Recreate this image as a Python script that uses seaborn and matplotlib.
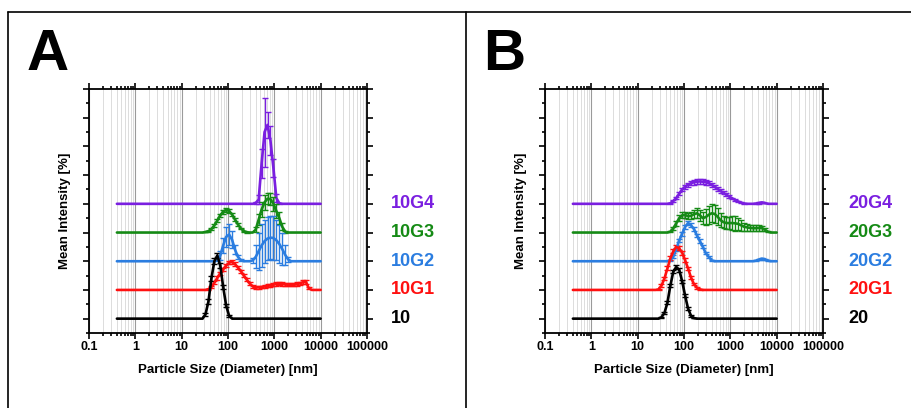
import numpy as np
import matplotlib
matplotlib.use("Agg")
import matplotlib.pyplot as plt
import matplotlib.ticker as mticker
import matplotlib.transforms as mtransforms
from matplotlib.lines import Line2D
import seaborn as sns

# ---- DLS size bins (nm) ----
sizes_nm = [0.4, 0.4632, 0.5365, 0.6213, 0.7195, 0.8332, 0.9649, 1.117, 1.294, 1.499,
            1.736, 2.01, 2.328, 2.696, 3.122, 3.615, 4.187, 4.849, 5.615, 6.503,
            7.531, 8.721, 10.1, 11.7, 13.54, 15.69, 18.17, 21.04, 24.36, 28.21,
            32.67, 37.84, 43.82, 50.75, 58.77, 68.06, 78.82, 91.28, 105.7, 122.4,
            141.8, 164.2, 190.1, 220.2, 255.0, 295.3, 342.0, 396.1, 458.7, 531.2,
            615.1, 712.4, 825.0, 955.4, 1106, 1281, 1484, 1718, 1990, 2305,
            2669, 3091, 3580, 4145, 4801, 5560, 6439, 7456, 8635, 10000]

# ---- Panel A : intensity (%) per bin ----
a_10 = [0]*30 + [1.5, 6, 14, 20, 22, 18.5, 11, 4.5, 1] + [0]*31
a_10_err = [0]*30 + [0.5, 0.8, 1, 1, 1, 1, 0.8, 0.6, 0.3] + [0]*31
a_10g1 = [0]*31 + [0.3, 1.0, 2.5, 4.2, 5.8, 7.2, 8.5, 9.5, 9.8, 9.0, 7.8, 6.5, 5.0, 3.5, 2.2,
                   1.2, 0.9, 0.9, 1.0, 1.2, 1.4, 1.6, 1.9, 2.1, 2.2, 2.1, 1.9, 1.8, 1.8, 1.8,
                   2.0, 2.3, 2.7, 2.8, 0.6] + [0]*4
a_10g1_err = [0]*31 + [0.2, 0.4, 0.5, 0.6, 0.6, 0.6, 0.6, 0.6, 0.6, 0.6, 0.6, 0.6, 0.5, 0.5, 0.4,
                       0.4, 0.4, 0.4, 0.4, 0.5, 0.5, 0.5, 0.6, 0.6, 0.6, 0.6, 0.6, 0.6, 0.6, 0.6,
                       0.6, 0.6, 0.7, 0.7, 0.3] + [0]*4
a_10g2 = [0]*34 + [0.3, 2, 5.5, 8.5, 9.3, 7.5, 4, 1.5, 0.4, 0, 0, 0, 0.3, 1.5, 3.5, 5.5, 7,
                   7.9, 8.2, 8.1, 7.3, 6, 4.2, 2.2, 0.6, 0] + [0]*10
a_10g2_err = [0]*34 + [0.3, 1.5, 2.5, 3.5, 3.5, 3, 1.5, 0.8, 0.3, 0, 0, 0, 1, 4, 6.5, 7.5, 7.5,
                       7.5, 7.5, 7.5, 7, 6.5, 5.5, 3.5, 1, 0] + [0]*10
a_10g3 = [0]*30 + [0.2, 0.5, 1.2, 2.5, 4.2, 6.0, 7.3, 7.9, 7.5, 6.3, 4.5, 2.8, 1.4, 0.5, 0.1,
                   0, 0, 1.0, 4.5, 8.0, 10.5, 11.8, 11.6, 10.0, 7.5, 5.0, 2.0, 0.3] + [0]*12
a_10g3_err = [0]*30 + [0.1, 0.2, 0.3, 0.4, 0.5, 0.6, 0.7, 0.7, 0.7, 0.6, 0.5, 0.4, 0.3, 0.2, 0.1,
                       0, 0, 0.8, 2, 2.5, 2.5, 2, 2, 2.5, 2.5, 2, 1.2, 0.3] + [0]*12
a_10g4 = [0]*47 + [0.3, 1.5, 14, 25, 27.5, 22, 12.5, 2, 0.2] + [0]*14
a_10g4_err = [0]*47 + [0.3, 1.5, 5, 12, 4.5, 5, 3, 1.5, 0.2] + [0]*14

# ---- Panel B ----
b_20 = [0]*30 + [0.5, 2, 5.5, 11.5, 16.4, 18, 17, 13, 8, 3.5, 1, 0.2] + [0]*28
b_20_err = [0]*30 + [0.2, 0.4, 0.5, 0.6, 0.6, 0.6, 0.6, 0.6, 0.5, 0.4, 0.3, 0.1] + [0]*28
b_20g1 = [0]*29 + [0.2, 1.5, 4, 7.5, 11, 13.5, 15, 14.5, 13, 10.3, 7.5, 4.3, 2, 0.8, 0.2] + [0]*26
b_20g1_err = [0]*29 + [0.1, 0.4, 0.6, 0.7, 0.7, 0.7, 0.7, 0.7, 0.7, 0.7, 0.6, 0.5, 0.4, 0.3, 0.1] + [0]*26
b_20g2 = ([0]*33 + [0.3, 1.7, 4.2, 7.2, 9.6, 12, 13.3, 12.5, 11.2, 9, 7, 5, 2.8, 1.5, 0.3]
          + [0]*14 + [0.2, 0.6, 0.9, 0.7, 0.2] + [0]*3)
b_20g2_err = ([0]*33 + [0.1, 0.4, 0.5, 0.6, 0.7, 0.7, 0.7, 0.7, 0.7, 0.6, 0.6, 0.5, 0.4, 0.3, 0.1]
              + [0]*14 + [0.1, 0.2, 0.3, 0.2, 0.1] + [0]*3)
b_20g3 = [0]*33 + [0.3, 1.5, 3.2, 5, 6, 6.1, 5.7, 5.8, 6.4, 6.7, 6.0, 5.0, 5.4, 6.2, 6.7, 6.5,
                   5.5, 4.3, 3.6, 3.3, 3.3, 3.3, 3.2, 3.0, 2.5, 2.0, 1.8, 1.6, 1.5, 1.5, 1.6,
                   1.5, 1.0, 0.3] + [0]*3
b_20g3_err = [0]*33 + [0.2, 0.6, 0.8, 1, 1, 1, 1, 1.2, 1.5, 1.8, 2, 2.2, 2.8, 3.2, 3.2, 3.2,
                       3, 2.5, 2, 2, 2.2, 2.5, 2.5, 2.2, 1.8, 1.3, 1.2, 1.1, 1, 1, 1,
                       0.9, 0.6, 0.2] + [0]*3
b_20g4 = [0]*33 + [0.2, 1, 2, 3.5, 5, 6, 6.7, 7.2, 7.5, 7.7, 7.8, 7.7, 7.5, 7.2, 6.6, 6,
                   5.2, 4.5, 3.8, 3.1, 2.5, 1.9, 1.3, 0.8, 0.4, 0.1, 0, 0, 0, 0.1, 0.3,
                   0.5, 0.3] + [0]*4
b_20g4_err = [0]*33 + [0.1, 0.3, 0.4, 0.5, 0.6, 0.7, 0.7, 0.8, 0.8, 0.8, 0.8, 0.8, 0.8, 0.8, 0.8, 0.7,
                       0.7, 0.6, 0.5, 0.5, 0.4, 0.3, 0.3, 0.2, 0.1, 0.1, 0, 0, 0, 0.1, 0.2,
                       0.2, 0.1] + [0]*4

labels_a = ["10", "10G1", "10G2", "10G3", "10G4"]
labels_b = ["20", "20G1", "20G2", "20G3", "20G4"]
offsets = [0, 10, 20, 30, 40]
colors = ["#000000", "#ff1010", "#2b7de0", "#158a15", "#7a1fe0"]

x_ticks = [0.1, 1, 10, 100, 1000, 10000, 100000]
x_ticklabels = ["0.1", "1", "10", "100", "1000", "10000", "100000"]

sns.set_style("ticks")
plt.rcParams['font.family'] = ['Liberation Sans', 'DejaVu Sans']
plt.rcParams['font.weight'] = 'bold'
plt.rcParams['axes.labelweight'] = 'bold'
for key in ['text.color', 'axes.labelcolor', 'xtick.color', 'ytick.color', 'axes.edgecolor']:
    plt.rcParams[key] = 'black'

fig = plt.figure(figsize=(9.12, 4.08), dpi=100)
axA = fig.add_axes([89/912, 75/408, 278/912, 244/408])
axB = fig.add_axes([545/912, 75/408, 278/912, 244/408])

x = np.array(sizes_nm)

def draw_panel(ax, series, errs, labels, label_x):
    ax.set_xscale('log')
    ax.set_xlim(0.1, 100000)
    ax.set_ylim(-5, 80)
    ax.xaxis.set_major_locator(mticker.FixedLocator(x_ticks))
    ax.xaxis.set_major_formatter(mticker.FixedFormatter(x_ticklabels))
    ax.xaxis.set_minor_locator(mticker.LogLocator(base=10, subs=range(2, 10), numticks=20))
    ax.xaxis.set_minor_formatter(mticker.NullFormatter())
    ax.yaxis.set_major_locator(mticker.MultipleLocator(10))
    ax.yaxis.set_minor_locator(mticker.MultipleLocator(5))
    ax.yaxis.set_major_formatter(mticker.NullFormatter())
    ax.grid(True, which='major', axis='x', color='#9a9a9a', lw=0.8)
    ax.grid(True, which='minor', axis='x', color='#dcdcdc', lw=0.7)
    ax.set_axisbelow(True)
    for s in ax.spines.values():
        s.set_linewidth(1.3)
        s.set_visible(True)
        s.set_color('black')
    ax.tick_params(which='both', direction='out', top=True, right=True, bottom=True, left=True,
                   width=1.2, labelsize=9, pad=2, colors='black')
    ax.tick_params(which='major', length=4)
    ax.tick_params(which='minor', length=2)
    tr = mtransforms.blended_transform_factory(ax.transAxes, ax.transData)
    order = [4, 3, 2, 1, 0]
    for k in order:
        y = np.array(series[k]) + offsets[k]
        e = np.array(errs[k])
        sns.lineplot(x=x, y=y, ax=ax, color=colors[k], lw=1.9, zorder=3 + (4 - k) * 0.1)
        m = e > 0
        ax.errorbar(x[m], y[m], yerr=e[m], fmt='none', ecolor=colors[k], elinewidth=1.0,
                    capsize=2, capthick=1.0, zorder=3)
    for k in range(5):
        ax.text(label_x, offsets[k], labels[k], transform=tr, color=colors[k], fontsize=13,
                fontweight='bold', ha='left', va='center')
    ax.set_xlabel("Particle Size (Diameter) [nm]", fontsize=9.5, fontweight='bold', labelpad=8)
    ax.set_ylabel("Mean Intensity [%]", fontsize=9.5, fontweight='bold', labelpad=7)

draw_panel(axA, [a_10, a_10g1, a_10g2, a_10g3, a_10g4],
           [a_10_err, a_10g1_err, a_10g2_err, a_10g3_err, a_10g4_err], labels_a, 1.085)
draw_panel(axB, [b_20, b_20g1, b_20g2, b_20g3, b_20g4],
           [b_20_err, b_20g1_err, b_20g2_err, b_20g3_err, b_20g4_err], labels_b, 1.09)

# panel frame
for (x0, y0, x1, y1) in [(8, 12, 912, 12), (8, 12, 8, 408), (466, 12, 466, 408)]:
    fig.add_artist(Line2D([x0/912, x1/912], [1 - y0/408, 1 - y1/408], color='black', lw=1.2,
                          transform=fig.transFigure))

fig.text(27/912, 1 - 70/408, "A", fontsize=42, fontweight='bold', ha='left', va='baseline',
         color='black')
fig.text(483/912, 1 - 70/408, "B", fontsize=42, fontweight='bold', ha='left', va='baseline',
         color='black')

fig.savefig("out.png", dpi=100)
